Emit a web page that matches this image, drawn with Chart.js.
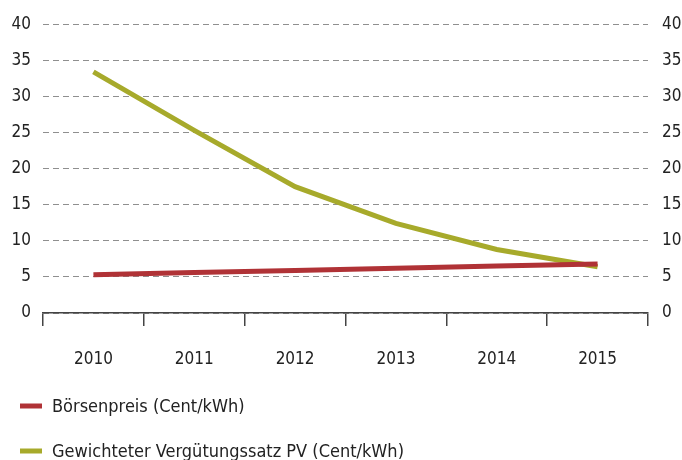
<!DOCTYPE html>
<html><head><meta charset="utf-8">
<script src="https://cdn.jsdelivr.net/npm/chart.js@4/dist/chart.umd.min.js"></script>
<style>html,body{margin:0;padding:0;background:#fff;}#wrap{width:682px;height:460px;}</style>
</head><body><div id="wrap"><canvas id="c" width="682" height="460"></canvas></div>
<script>
const years = ['2010','2011','2012','2013','2014','2015'];
const boersenpreis = [5.3, 5.6, 5.9, 6.2, 6.5, 6.8];
const verguetung = [33.4, 25.3, 17.5, 12.4, 8.8, 6.4];
const labels = ['Börsenpreis (Cent/kWh)', 'Gewichteter Vergütungssatz PV (Cent/kWh)'];
const colors = ['#b03236', '#a7aa2b'];
const FONT = "'Liberation Sans Narrow','DejaVu Sans Condensed',sans-serif";

const legendPlugin = {
  id: 'vlegend',
  afterDraw(chart) {
    const ctx = chart.ctx;
    ctx.save();
    chart.data.datasets.forEach((ds, i) => {
      const y = 406 + i * 45;
      ctx.strokeStyle = ds.borderColor;
      ctx.lineWidth = 5;
      ctx.beginPath(); ctx.moveTo(20, y); ctx.lineTo(42, y); ctx.stroke();
      ctx.fillStyle = '#222';
      ctx.font = '18px ' + FONT;
      ctx.textBaseline = 'middle';
      ctx.fillText(ds.label, 52, y + 1);
    });
    ctx.restore();
  }
};

new Chart(document.getElementById('c'), {
  type: 'line',
  data: {
    labels: years,
    datasets: [
      {label: labels[0], data: boersenpreis, borderColor: colors[0], backgroundColor: colors[0], borderWidth: 5, pointRadius: 0, tension: 0, yAxisID: 'y'},
      {label: labels[1], data: verguetung, borderColor: colors[1], backgroundColor: colors[1], borderWidth: 5, pointRadius: 0, tension: 0, yAxisID: 'y'}
    ]
  },
  options: {
    responsive: false,
    animation: false,
    layout: {padding: {top: 23, bottom: 87, left: 0, right: 0}},
    plugins: {legend: {display: false}, tooltip: {enabled: false}},
    scales: {
      x: {
        offset: true,
        grid: {offset: true, drawOnChartArea: false, color: '#444', lineWidth: 1.5, tickLength: 13},
        border: {display: true, color: '#444', width: 1.5},
        ticks: {color: '#222', font: {family: FONT, size: 17}, padding: 23},
        afterFit(s) { s.height = 60; }
      },
      y: {
        position: 'left', min: 0, max: 40,
        ticks: {stepSize: 5, color: '#222', font: {family: FONT, size: 17}, padding: 12},
        grid: {color: '#8f8f8f', lineWidth: 1, drawTicks: false},
        border: {display: false, dash: [6,4]},
        afterFit(s) { s.width = 43; }
      },
      y2: {
        position: 'right', min: 0, max: 40,
        ticks: {stepSize: 5, color: '#222', font: {family: FONT, size: 17}, padding: 14},
        grid: {display: false, drawTicks: false},
        border: {display: false},
        afterFit(s) { s.width = 34; }
      }
    }
  },
  plugins: [legendPlugin]
});
</script></body></html>
